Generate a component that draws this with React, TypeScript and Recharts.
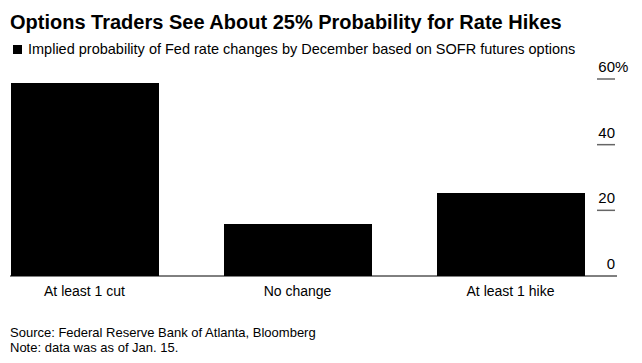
import { BarChart, Bar, XAxis, YAxis } from 'recharts';

const categories = ['At least 1 cut', 'No change', 'At least 1 hike'];
const probabilities = [58.8, 15.8, 25.3];
const yTicks = [0, 20, 40, 60];

const data = categories.map((name, i) => ({ name, value: probabilities[i] }));

const sans = '"Liberation Sans", Arial, sans-serif';

const RightTick = (props: any) => {
  const { y, payload } = props;
  const v = payload.value;
  return (
    <g>
      {v !== 0 && <line x1={597} x2={615} y1={y} y2={y} stroke="#666" strokeWidth={1.5} />}
      <text x={615} y={y - 7} textAnchor="end" fontSize={15} fontFamily={sans} fill="#000">
        {v}
      </text>
      {v === 60 && (
        <text x={615} y={y - 7} textAnchor="start" fontSize={15} fontFamily={sans} fill="#000">
          %
        </text>
      )}
    </g>
  );
};

export default function App() {
  return (
    <div style={{ position: 'absolute', left: 0, top: 0, width: 642, height: 363, background: '#fff' }}>
      <div
        style={{
          position: 'absolute',
          left: 10,
          top: 11,
          fontFamily: sans,
          fontWeight: 'bold',
          fontSize: 20,
          whiteSpace: 'nowrap',
          color: '#000',
        }}
      >
        Options Traders See About 25% Probability for Rate Hikes
      </div>
      <div
        style={{
          position: 'absolute',
          left: 13,
          top: 41,
          fontFamily: sans,
          fontSize: 14.5,
          whiteSpace: 'nowrap',
          color: '#000',
          display: 'flex',
          alignItems: 'center',
        }}
      >
        <span style={{ display: 'inline-block', width: 9, height: 9, background: '#000', marginRight: 6 }} />
        Implied probability of Fed rate changes by December based on SOFR futures options
      </div>
      <div style={{ position: 'absolute', left: 0, top: 0 }}>
        <BarChart
          width={642}
          height={363}
          data={data}
          margin={{ top: 79, right: 0, bottom: 57, left: 10 }}
        >
          <XAxis
            dataKey="name"
            axisLine={{ stroke: '#000', strokeWidth: 1 }}
            tickLine={false}
            height={30}
            padding={{ left: -32, right: 0 }}
            tick={{ fontSize: 14, fontFamily: sans, fill: '#000' }}
            tickMargin={4}
            interval={0}
          />
          <YAxis
            orientation="right"
            domain={[0, 60]}
            ticks={yTicks}
            axisLine={false}
            tickLine={false}
            width={25}
            tick={<RightTick />}
          />
          <Bar dataKey="value" fill="#000" barSize={148} isAnimationActive={false} />
        </BarChart>
      </div>
      <div
        style={{
          position: 'absolute',
          left: 10,
          top: 325,
          fontFamily: sans,
          fontSize: 13,
          lineHeight: '15px',
          color: '#000',
          whiteSpace: 'nowrap',
        }}
      >
        <div>Source: Federal Reserve Bank of Atlanta, Bloomberg</div>
        <div>Note: data was as of Jan. 15.</div>
      </div>
    </div>
  );
}
